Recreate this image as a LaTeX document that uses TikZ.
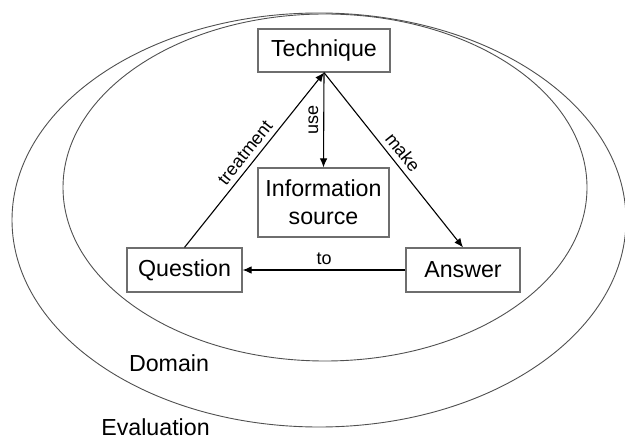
\documentclass[tikz,border=0pt]{standalone}
\usepackage{fontspec}
\setmainfont{Liberation Sans}
\usetikzlibrary{arrows.meta, positioning}
\definecolor{boxgray}{RGB}{110,110,110}
\definecolor{ringgray}{RGB}{80,80,80}

\begin{document}
\begin{tikzpicture}[
      x=0.5pt, y=0.5pt,
      box/.style      = {draw=boxgray, line width=0.6pt, align=center,
                         minimum height=22pt, inner sep=2pt,
                         font=\fontsize{11.6}{13.8}\selectfont},
      ring/.style     = {draw=ringgray, line width=0.45pt},
      arrow/.style    = {-{Latex[length=4.5pt, width=3.8pt]}, line width=0.55pt},
      lbl/.style      = {font=\fontsize{9}{11}\selectfont, inner sep=2.5pt},
      area/.style     = {font=\fontsize{11.6}{13.8}\selectfont, inner sep=1pt}
    ]
    \useasboundingbox (0,0) rectangle (625,439);

    % Rings
    \draw[ring] (319,219) ellipse [x radius=153.5pt, y radius=103.5pt];
    \draw[ring] (325,251.5) ellipse [x radius=131pt, y radius=86.75pt];

    % Nodes
    \node[box, minimum width=66pt, minimum height=21.5pt] (tech) at (324,388.5) {Technique};
    \node[box, minimum width=65.5pt, minimum height=34.5pt] (info) at (323.5,236.5) {Information\\source};
    \node[box, minimum width=57.5pt] (quest) at (184.5,169) {Question};
    \node[box, minimum width=57pt] (answ) at (463,169) {Answer};
    \node[area] (domain) at (169,76) {Domain};
    \node[area] (eval) at (155.5,12) {Evaluation};

    % Relationships
    \draw[arrow] (quest.north) -- node[lbl, midway, above, sloped] {treatment} (tech.south);
    \draw[arrow] (tech.south) -- node[lbl, midway, anchor=south, rotate=90] {use} (info.north);
    \draw[arrow] (tech.south) -- node[lbl, midway, above, sloped] {make} (answ.north);
    \draw[arrow] (answ.west) -- node[lbl, midway, above] {to} (quest.east);

\end{tikzpicture}
\end{document}
